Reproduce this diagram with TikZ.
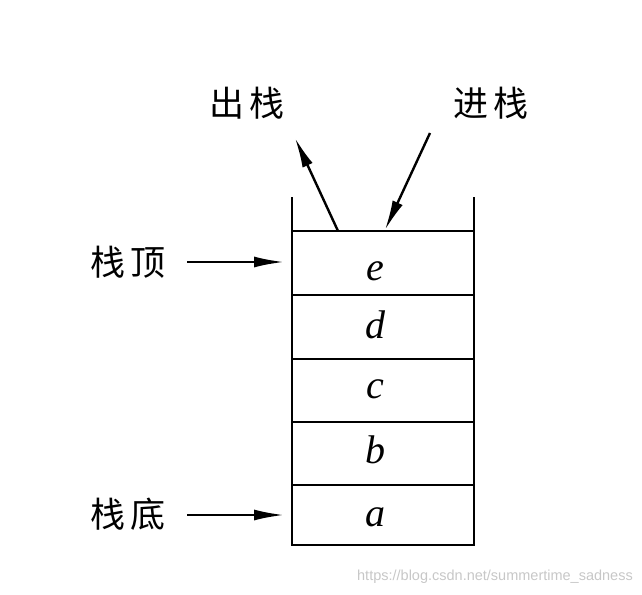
\documentclass[tikz,border=0pt]{standalone}
\usepackage{fontspec}
\newfontfamily\cjk{Noto Sans CJK SC}
\newfontfamily\wm{Liberation Sans}
\newfontfamily\tms{Liberation Serif}
\usetikzlibrary{arrows.meta}
\begin{document}
\begin{tikzpicture}[x=1pt,y=-1pt,
  wall/.style={line width=2.8pt},
  arr/.style={line width=2.4pt,-{Latex[length=30pt,width=11pt]}},
  cn/.style={font=\cjk\fontsize{35}{35}\selectfont,inner sep=0pt},
  cellname/.style={font=\tms\itshape\fontsize{40}{40}\selectfont,inner sep=0pt}]
\useasboundingbox (0,0) rectangle (642,594);
% stack walls and cells
\draw[wall] (292,197) -- (292,545) -- (474,545) -- (474,197);
\foreach \y in {231,295,359,422,485}{\draw[wall] (292,\y) -- (474,\y);}
\node[cellname] (e) at (375,271) {e};
\node[cellname] (d) at (375,325) {d};
\node[cellname] (c) at (375,389) {c};
\node[cellname] (b) at (375,450) {b};
\node[cellname] (a) at (375,517) {a};
% labels
\node[cn] (out) at (247,103) {出\hspace{6pt}栈};
\node[cn] (in) at (491,103) {进\hspace{6pt}栈};
\node[cn] (top) at (128,262) {栈\hspace{6pt}顶};
\node[cn] (bot) at (128,514) {栈\hspace{6pt}底};
% connector points
\coordinate (outS) at (338,231);
\coordinate (outE) at (295,138);
\coordinate (inS) at (430,133);
\coordinate (inE) at (385,230);
\coordinate (topS) at (187,262);
\coordinate (topE) at (284,262);
\coordinate (botS) at (187,515);
\coordinate (botE) at (284,515);
\draw[arr] (outS) -- (outE);
\draw[arr] (inS) -- (inE);
\draw[arr] (topS) -- (topE);
\draw[arr] (botS) -- (botE);
% watermark
\node[font=\wm\fontsize{14.5}{14.5}\selectfont,text=black!22,anchor=east,inner sep=0pt] (wmark) at (633,577) {https://blog.csdn.net/summertime\_sadness};
\end{tikzpicture}
\end{document}
